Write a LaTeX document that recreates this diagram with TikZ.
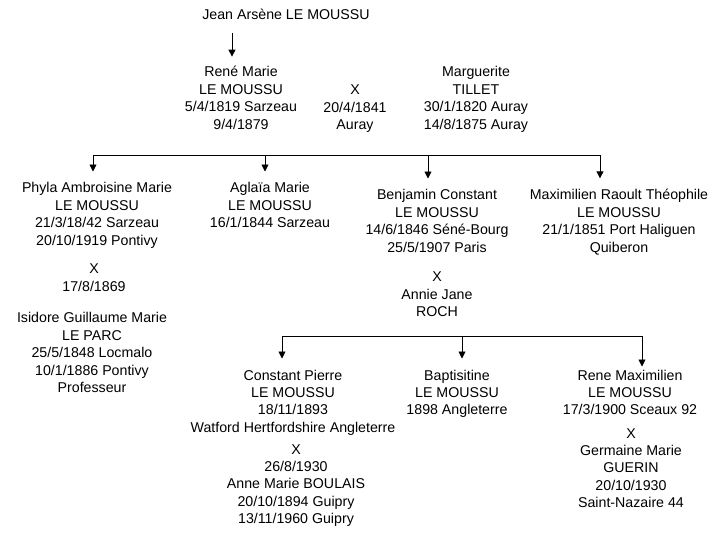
\documentclass[tikz,border=0pt]{standalone}
\usepackage{fontspec}
\setmainfont{Liberation Sans}
\usetikzlibrary{arrows.meta, positioning, calc}

\tikzset{
  person/.style={align=center, inner sep=0pt, anchor=base,
    font=\fontsize{14.2}{17.4}\selectfont},
  arr/.style={-{Triangle[length=7pt,width=7pt]}, line width=0.9pt, shorten >=11pt},
  bar/.style={line width=0.9pt},
}

\begin{document}
\begin{tikzpicture}[x=1pt,y=-1pt]
  \useasboundingbox[fill=white] (0,0) rectangle (716,540);

  % first generation (base = last line)
  \node[person] (jean) at (286,20) {Jean Arsène LE MOUSSU};
  \node[person] (rene) at (241,129.2) {René Marie\\LE MOUSSU\\5/4/1819 Sarzeau\\9/4/1879};
  \node[person] (wed1) at (355,129.8) {X\\20/4/1841\\Auray};
  \node[person] (marguerite) at (476,129.2) {Marguerite\\TILLET\\30/1/1820 Auray\\14/8/1875 Auray};

  \coordinate (j1) at (232,33);
  \draw[arr, shorten >=9.7pt] (j1) -- (j1 |- rene.north);

  % children
  \node[person] (phyla) at (97,245.2) {Phyla Ambroisine Marie\\LE MOUSSU\\21/3/18/42 Sarzeau\\20/10/1919 Pontivy};
  \node[person] (aglaia) at (270,227.8) {Aglaïa Marie\\LE MOUSSU\\16/1/1844 Sarzeau};
  \node[person] (benjamin) at (437,252.2) {Benjamin Constant\\LE MOUSSU\\14/6/1846 Séné-Bourg\\25/5/1907 Paris};
  \node[person] (maximilien) at (619,252.2) {Maximilien Raoult Théophile\\LE MOUSSU\\21/1/1851 Port Haliguen\\Quiberon};

  \node[person] (wed2) at (94,291.4) {X\\17/8/1869};
  \node[person] (isidore) at (92,392.6) {Isidore Guillaume Marie\\LE PARC\\25/5/1848 Locmalo\\10/1/1886 Pontivy\\Professeur};
  \node[person] (wed3) at (437,316.8) {X\\Annie Jane\\ROCH};

  \coordinate (b1) at (93,155);
  \coordinate (b2) at (265,155);
  \coordinate (b3) at (428,155);
  \coordinate (b4) at (600,155);
  \draw[bar] (b1) -- (b4);
  \draw[arr] (b1) -- (b1 |- phyla.north);
  \draw[arr] (b2) -- (b2 |- aglaia.north);
  \draw[arr] (b3) -- (b3 |- benjamin.north);
  \draw[arr] (b4) -- (b4 |- maximilien.north);

  % grandchildren
  \node[person] (constant) at (293,432.2) {Constant Pierre\\LE MOUSSU\\18/11/1893\\Watford Hertfordshire Angleterre};
  \node[person] (wed4) at (296,523.6) {X\\26/8/1930\\Anne Marie BOULAIS\\20/10/1894 Guipry\\13/11/1960 Guipry};
  \node[person] (baptisitine) at (457,414.8) {Baptisitine\\LE MOUSSU\\1898 Angleterre};
  \node[person] (renemax) at (630,414.8) {Rene Maximilien\\LE MOUSSU\\17/3/1900 Sceaux 92};
  \node[person] (wed5) at (631,507.6) {X\\Germaine Marie\\GUERIN\\20/10/1930\\Saint-Nazaire 44};

  \coordinate (c1) at (282,336);
  \coordinate (c2) at (462,336);
  \coordinate (c3) at (642,336);
  \draw[bar] (c1) -- (c3);
  \draw[arr] (c1) -- (c1 |- constant.north);
  \draw[arr] (c2) -- (c2 |- baptisitine.north);
  \draw[arr, shorten >=3pt] (c3) -- (c3 |- renemax.north);
\end{tikzpicture}
\end{document}
